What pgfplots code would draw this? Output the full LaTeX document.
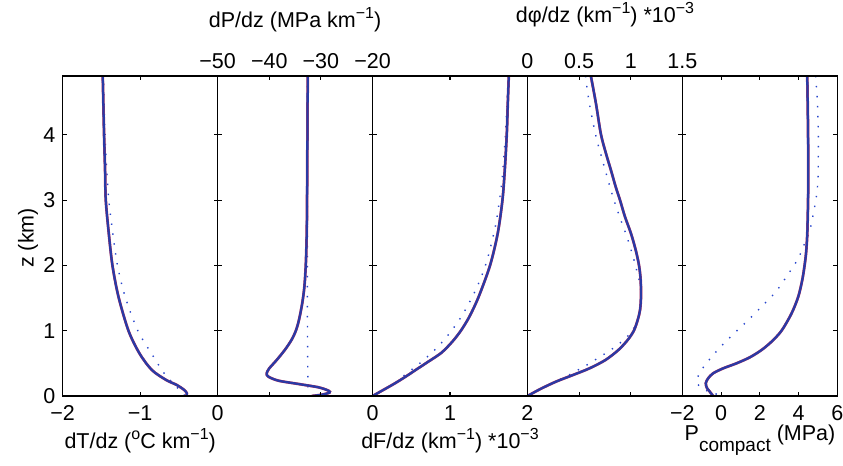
\documentclass[border=0pt]{standalone}
\usepackage{fontspec}
\setmainfont{Liberation Sans}
\usepackage{pgfplots}
\pgfplotsset{compat=1.18}
\definecolor{mblue}{RGB}{42,58,165}
\definecolor{mred}{RGB}{205,55,85}
\definecolor{dotblue}{RGB}{40,70,205}
\newcommand\fs{\fontsize{21.5bp}{26bp}\selectfont}
\newcommand\sups[1]{\raisebox{0.42em}{\fontsize{16bp}{18bp}\selectfont #1}}
\pgfplotsset{
  panel/.style={width=154.92bp,height=320bp,scale only axis,
    ymin=0,ymax=4.9,ytick={0,1,2,3,4},yticklabels={},
    xtick pos=both,ytick pos=both,tick align=inside,
    major tick length=4bp,
    axis line style={line width=1.1bp,black},
    every tick/.style={black,line width=1.1bp},
    tick label style={font=\fs},
    axis on top, anchor=south west},
  bot/.style={xticklabel pos=left,xticklabel style={yshift=-2.5bp}},
  top/.style={xticklabel pos=right},
  sred/.style={mred,line width=2.7bp,smooth,no marks},
  sblue/.style={mblue,line width=2.3bp,smooth,no marks},
  sdot/.style={dotblue,line width=1.4bp,dash pattern=on 1.4bp off 8.6bp,smooth,no marks},
}
\begin{document}
\fs
\begin{tikzpicture}[x=1bp,y=1bp,font=\fs]
% Panel 1: dT/dz
\begin{axis}[panel,bot,at={(62.7bp,70bp)},xmin=-2,xmax=0,xtick={-2,-1,0},xticklabels={−2,−1,0},yticklabels={0,1,2,3,4},yticklabel pos=left]
\addplot[sdot] coordinates {(-1.475,4.9)(-1.474,4.84)(-1.453,4.0)(-1.431,3.46)(-1.405,3.0)(-1.353,2.49)(-1.293,2.0)(-1.194,1.52)(-1.03,1.0)(-0.828,0.602)(-0.69,0.347)(-0.534,0.143)(-0.431,0.015)(-0.42,0)};
\addplot[sred] coordinates {(-1.483,4.9)(-1.466,4.0)(-1.453,3.46)(-1.444,3.0)(-1.405,2.49)(-1.358,2.0)(-1.28,1.52)(-1.151,1.0)(-1.009,0.653)(-0.849,0.398)(-0.664,0.245)(-0.526,0.168)(-0.431,0.092)(-0.397,0.041)(-0.405,0)};
\addplot[sblue] coordinates {(-1.483,4.9)(-1.466,4.0)(-1.453,3.46)(-1.444,3.0)(-1.405,2.49)(-1.358,2.0)(-1.28,1.52)(-1.151,1.0)(-1.009,0.653)(-0.849,0.398)(-0.664,0.245)(-0.526,0.168)(-0.431,0.092)(-0.397,0.041)(-0.405,0)};
\end{axis}
% Panel 2: dP/dz
\begin{axis}[panel,top,at={(217.62bp,70bp)},xmin=-50,xmax=-20,xtick={-50,-40,-30,-20},xticklabels={−50,−40,−30,−20}]
\addplot[sdot] coordinates {(-32.61,4.9)(-32.61,2.5)(-32.6,1.0)(-32.5,0)};
\addplot[sred] coordinates {(-32.55,4.9)(-32.68,3.0)(-32.76,2.439)(-32.93,2.0)(-33.2,1.673)(-33.62,1.418)(-34.25,1.163)(-34.85,1.0)(-35.7,0.857)(-37.0,0.704)(-38.56,0.551)(-40.0,0.423)(-40.5,0.347)(-40.17,0.296)(-38.24,0.235)(-34.36,0.184)(-30.48,0.133)(-28.54,0.082)(-28.35,0.051)(-29.83,0.02)(-31.77,0)};
\addplot[sblue] coordinates {(-32.55,4.9)(-32.68,3.0)(-32.76,2.439)(-32.93,2.0)(-33.2,1.673)(-33.62,1.418)(-34.25,1.163)(-34.85,1.0)(-35.7,0.857)(-37.0,0.704)(-38.56,0.551)(-40.0,0.423)(-40.5,0.347)(-40.17,0.296)(-38.24,0.235)(-34.36,0.184)(-30.48,0.133)(-28.54,0.082)(-28.35,0.051)(-29.83,0.02)(-31.77,0)};
\end{axis}
% Panel 3: dF/dz
\begin{axis}[panel,bot,at={(372.54bp,70bp)},xmin=0,xmax=2,xtick={0,1,2},xticklabels={0,1,2}]
\addplot[sdot] coordinates {(1.752,4.9)(1.75,4.806)(1.741,4.643)(1.716,4.031)(1.69,3.571)(1.668,3.265)(1.634,2.959)(1.595,2.653)(1.539,2.357)(1.474,2.061)(1.388,1.776)(1.28,1.5)(1.151,1.224)(1.0,0.969)(0.836,0.745)(0.642,0.531)(0.431,0.337)(0.289,0.194)(0.138,0.092)(0,0)};
\addplot[sred] coordinates {(1.759,4.9)(1.746,4.48)(1.733,4.01)(1.707,3.459)(1.677,3.0)(1.616,2.49)(1.517,2.0)(1.37,1.52)(1.25,1.214)(1.14,1.0)(1.03,0.832)(0.89,0.663)(0.72,0.526)(0.569,0.408)(0.44,0.306)(0.289,0.194)(0.138,0.092)(0,0)};
\addplot[sblue] coordinates {(1.759,4.9)(1.746,4.48)(1.733,4.01)(1.707,3.459)(1.677,3.0)(1.616,2.49)(1.517,2.0)(1.37,1.52)(1.25,1.214)(1.14,1.0)(1.03,0.832)(0.89,0.663)(0.72,0.526)(0.569,0.408)(0.44,0.306)(0.289,0.194)(0.138,0.092)(0,0)};
\end{axis}
% Panel 4: dphi/dz
\begin{axis}[panel,top,at={(527.46bp,70bp)},xmin=0,xmax=1.5,xtick={0,0.5,1,1.5},xticklabels={0,0.5,1,1.5}]
\addplot[sdot] coordinates {(0.562,4.9)(0.566,4.837)(0.595,4.52)(0.63,4.224)(0.672,3.918)(0.724,3.622)(0.776,3.327)(0.831,3.031)(0.892,2.745)(0.96,2.449)(1.018,2.158)(1.067,1.867)(1.093,1.673)(1.096,1.469)(1.083,1.265)(1.045,1.08)(0.985,0.94)(0.918,0.84)(0.847,0.75)(0.766,0.663)(0.692,0.592)(0.614,0.51)(0.524,0.43)(0.427,0.341)(0.265,0.219)(0.12,0.107)(0,0)};
\addplot[sred] coordinates {(0.614,4.898)(0.663,4.48)(0.711,4.01)(0.76,3.714)(0.808,3.459)(0.854,3.204)(0.896,3.0)(0.944,2.745)(1.002,2.49)(1.048,2.235)(1.08,2.0)(1.096,1.776)(1.099,1.52)(1.09,1.316)(1.067,1.163)(1.03,1.0)(0.97,0.857)(0.88,0.704)(0.755,0.551)(0.6,0.423)(0.44,0.321)(0.275,0.219)(0.125,0.107)(0,0)};
\addplot[sblue] coordinates {(0.614,4.898)(0.663,4.48)(0.711,4.01)(0.76,3.714)(0.808,3.459)(0.854,3.204)(0.896,3.0)(0.944,2.745)(1.002,2.49)(1.048,2.235)(1.08,2.0)(1.096,1.776)(1.099,1.52)(1.09,1.316)(1.067,1.163)(1.03,1.0)(0.97,0.857)(0.88,0.704)(0.755,0.551)(0.6,0.423)(0.44,0.321)(0.275,0.219)(0.125,0.107)(0,0)};
\end{axis}
% Panel 5: P compact
\begin{axis}[panel,bot,at={(682.38bp,70bp)},xmin=-2,xmax=6,xtick={-2,0,2,4,6},xticklabels={−2,0,2,4,6}]
\addplot[sdot] coordinates {(4.88,4.9)(4.897,4.837)(4.966,4.531)(5.017,4.071)(5.017,3.612)(5.0,3.306)(4.931,3.077)(4.793,2.837)(4.586,2.541)(4.379,2.388)(3.983,2.107)(3.431,1.852)(2.828,1.597)(2.121,1.378)(1.397,1.163)(0.621,0.944)(-0.103,0.73)(-0.793,0.49)(-1.069,0.367)(-1.276,0.224)(-0.966,0.112)(-0.45,0.05)(0.069,0)};
\addplot[sred] coordinates {(4.448,4.898)(4.47,4.48)(4.49,4.01)(4.5,3.459)(4.49,3.0)(4.45,2.49)(4.39,2.2)(4.31,2.0)(4.19,1.776)(3.983,1.52)(3.638,1.265)(3.121,1.0)(2.603,0.832)(2.086,0.704)(1.483,0.592)(0.793,0.5)(0.103,0.423)(-0.414,0.347)(-0.672,0.27)(-0.793,0.194)(-0.724,0.117)(-0.586,0.066)(-0.414,0)};
\addplot[sblue] coordinates {(4.448,4.898)(4.47,4.48)(4.49,4.01)(4.5,3.459)(4.49,3.0)(4.45,2.49)(4.39,2.2)(4.31,2.0)(4.19,1.776)(3.983,1.52)(3.638,1.265)(3.121,1.0)(2.603,0.832)(2.086,0.704)(1.483,0.592)(0.793,0.5)(0.103,0.423)(-0.414,0.347)(-0.672,0.27)(-0.793,0.194)(-0.724,0.117)(-0.586,0.066)(-0.414,0)};
\end{axis}
% Labels
\node[anchor=center,rotate=90] at (28,228) {z (km)};
\node[anchor=base] at (140.2,17) {dT/dz (\sups{o}C km\sups{−1})};
\node[anchor=base] at (450,17) {dF/dz (km\sups{−1}) *10\sups{−3}};
\node[anchor=base] at (760,25) {P\raisebox{-0.5em}{\fontsize{19bp}{21bp}\selectfont compact} (MPa)};
\node[anchor=base] at (295.1,438) {dP/dz (MPa km\sups{−1})};
\node[anchor=base] at (605,443) {dφ/dz (km\sups{−1}) *10\sups{−3}};
\pgfresetboundingbox
\path[use as bounding box] (0,0) rectangle (843,466);
\end{tikzpicture}
\end{document}
